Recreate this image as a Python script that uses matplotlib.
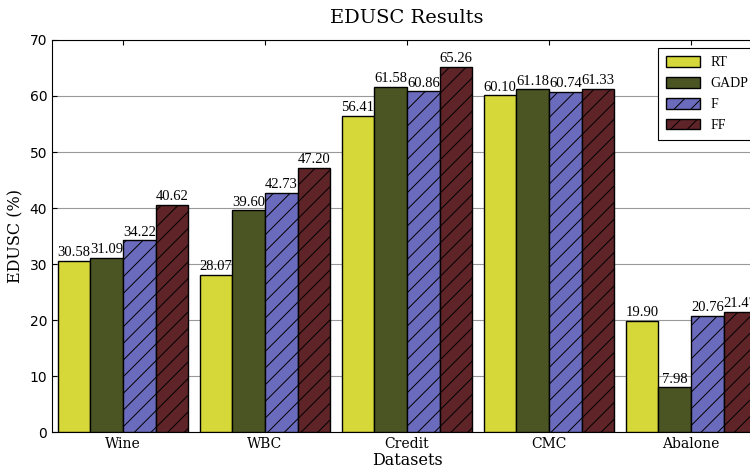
import numpy as np
import matplotlib
matplotlib.use("Agg")
import matplotlib.pyplot as plt

datasets = ["Wine", "WBC", "Credit", "CMC", "Abalone"]
methods = ["RT", "GADP", "F", "FF"]
rt = [30.58, 28.07, 56.41, 60.10, 19.90]
gadp = [31.09, 39.60, 61.58, 61.18, 7.98]
f_vals = [34.22, 42.73, 60.86, 60.74, 20.76]
ff = [40.62, 47.20, 65.26, 61.33, 21.47]

colors = ["#d6d83a", "#4b5523", "#6b6bbd", "#5e2428"]
hatches = ["", "", "//", "//"]

plt.rcParams['hatch.linewidth'] = 0.7

fig = plt.figure(figsize=(7.5, 4.68), dpi=100)
# axes extends past the right edge like the original crop
ax = fig.add_axes([52 / 750, 36 / 468, 710 / 750, 392 / 468])

ind = np.arange(len(datasets))
width = 0.23
series = [rt, gadp, f_vals, ff]
for i, vals in enumerate(series):
    b = ax.bar(ind + i * width, vals, width, align='edge', color=colors[i],
               edgecolor='black', hatch=hatches[i], linewidth=1.0,
               label=methods[i], zorder=3)
    for rect, v in zip(b, vals):
        ax.text(rect.get_x() + rect.get_width() / 2, v + 0.3, "%.2f" % v,
                ha='center', va='bottom', family='Liberation Serif', fontsize=10.5)

ax.set_xlim(-0.04, 4.96)
ax.set_ylim(0, 70)
ax.set_xticks(ind + 2 * width)
ax.set_xticklabels(datasets, family='DejaVu Serif', fontsize=10)
ax.tick_params(axis='both', direction='in', top=True, right=True, labelsize=10)
ax.yaxis.grid(True, color='#999999', linewidth=0.8, zorder=0)
ax.set_axisbelow(True)

ax.set_title("EDUSC Results", family='DejaVu Serif', fontsize=14, pad=12)
ax.set_xlabel("Datasets", family='DejaVu Serif', fontsize=11.5, labelpad=1)
ax.set_ylabel("EDUSC (%)", family='DejaVu Serif', fontsize=11.5)

leg = ax.legend(loc='upper left', bbox_to_anchor=(658 / 750, 1 - 48 / 468),
                bbox_transform=fig.transFigure, prop={'family': 'Liberation Serif', 'size': 10},
                fancybox=False, edgecolor='black', framealpha=1, borderaxespad=0,
                handlelength=2.4, handleheight=0.8, labelspacing=0.55,
                handletextpad=0.75, borderpad=0.6)
leg.get_frame().set_linewidth(0.8)

fig.savefig("out.png", dpi=100)
